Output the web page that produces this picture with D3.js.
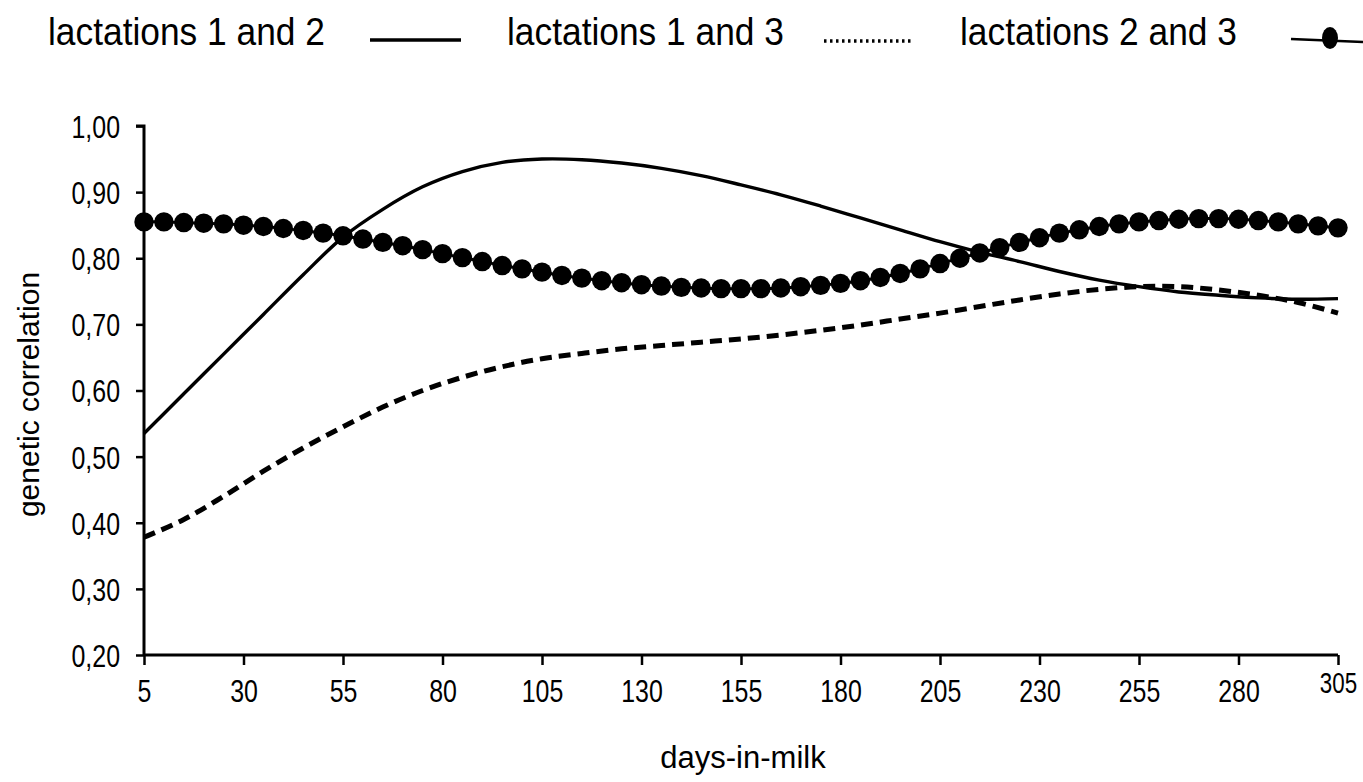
<!DOCTYPE html>
<html>
<head>
<meta charset="utf-8">
<script src="https://cdn.jsdelivr.net/npm/d3@7"></script>
<style>
  html, body { margin: 0; padding: 0; background: #fff; }
  svg { display: block; }
  text { font-family: "Liberation Sans", Arial, sans-serif; fill: #000; }
</style>
</head>
<body>
<svg id="chart" width="1363" height="782"></svg>
<script>
// ---- data ----
const xTicks = [5, 30, 55, 80, 105, 130, 155, 180, 205, 230, 255, 280, 305];
const yTicks = [0.20, 0.30, 0.40, 0.50, 0.60, 0.70, 0.80, 0.90, 1.00];

const lineDays = [5, 15, 25, 35, 45, 55, 65, 75, 85, 95, 105, 115, 125, 135, 145, 155,
  165, 175, 185, 195, 205, 215, 225, 235, 245, 255, 265, 275, 285, 295, 305];

// lactations 1 and 2 (solid)
const lact12 = [0.535, 0.595, 0.655, 0.715, 0.775, 0.832, 0.874, 0.908, 0.931, 0.945, 0.950,
  0.949, 0.944, 0.936, 0.925, 0.911, 0.896, 0.879, 0.861, 0.843, 0.825, 0.809, 0.795, 0.780,
  0.767, 0.757, 0.749, 0.744, 0.740, 0.738, 0.739];

// lactations 1 and 3 (dashed)
const lact13 = [0.378, 0.405, 0.440, 0.478, 0.513, 0.545, 0.575, 0.600, 0.620, 0.636, 0.648,
  0.656, 0.663, 0.668, 0.673, 0.678, 0.684, 0.691, 0.699, 0.708, 0.717, 0.727, 0.737, 0.746,
  0.753, 0.757, 0.757, 0.752, 0.744, 0.733, 0.717];

const dotDays = d3.range(5, 306, 5);
// lactations 2 and 3 (dots)
const lact23 = [0.855, 0.855, 0.854, 0.853, 0.852, 0.850, 0.848, 0.845, 0.842, 0.838,
  0.834, 0.829, 0.824, 0.819, 0.813, 0.807, 0.801, 0.795, 0.789, 0.784,
  0.779, 0.774, 0.770, 0.766, 0.763, 0.760, 0.758, 0.756, 0.755, 0.754,
  0.754, 0.754, 0.755, 0.757, 0.759, 0.762, 0.766, 0.771, 0.777, 0.784,
  0.792, 0.800, 0.808, 0.816, 0.824, 0.831, 0.838, 0.843, 0.848, 0.852,
  0.855, 0.857, 0.859, 0.860, 0.860, 0.859, 0.857, 0.855, 0.852, 0.849, 0.846];

const legendLabels = ["lactations 1 and 2", "lactations 1 and 3", "lactations 2 and 3"];

// ---- drawing ----
const svg = d3.select("#chart");
const x = d3.scaleLinear().domain([5, 305]).range([144, 1338]);
const y = d3.scaleLinear().domain([0.2, 1.0]).range([655, 126]);
const fmt = v => d3.format(".2f")(v).replace(".", ",");

// y axis
const yAxis = svg.append("g").attr("transform", `translate(${x(5)},0)`)
  .call(d3.axisLeft(y).tickValues(yTicks).tickFormat(fmt).tickSize(8).tickPadding(14));
yAxis.select(".domain").attr("stroke", "#000").attr("stroke-width", 3)
  .attr("d", `M-8,${y(1)}H0V${y(0.2)}`);
yAxis.selectAll(".tick line").attr("stroke-width", 2.5);
yAxis.selectAll(".tick text").style("font-size", "29px")
  .attr("x", 0).attr("y", 0).attr("dy", "0.36em")
  .attr("transform", "translate(-24,0) scale(0.86,1.1)");

// x axis
const xAxis = svg.append("g").attr("transform", `translate(0,${y(0.2)})`)
  .call(d3.axisBottom(x).tickValues(xTicks).tickSize(10).tickPadding(15));
xAxis.select(".domain").attr("stroke", "#000").attr("stroke-width", 3)
  .attr("d", `M${x(5)},0H${x(305)}`);
xAxis.selectAll(".tick line").attr("stroke-width", 2.5);
xAxis.selectAll(".tick text").style("font-size", "29px")
  .attr("y", 0).attr("dy", "0.71em").attr("transform", "translate(0,24) scale(0.86,1.1)")
  .filter(d => d === 305).style("font-size", "26px").attr("dy", "0.5em");
svg.selectAll(".tick text").attr("fill", "#000");

// axis titles
svg.append("text").attr("transform", `translate(39,${(y(0.2) + y(1)) / 2 + 4}) rotate(-90)`)
  .attr("text-anchor", "middle").style("font-size", "30px").text("genetic correlation");
svg.append("text").attr("x", (x(5) + x(305)) / 2 + 2).attr("y", 768)
  .attr("text-anchor", "middle").style("font-size", "31px").text("days-in-milk");

// series
const curve = d3.curveCatmullRom.alpha(0.5);
const line = d3.line().x(d => x(d[0])).y(d => y(d[1])).curve(curve);

svg.append("path").datum(d3.zip(lineDays, lact13))
  .attr("fill", "none").attr("stroke", "#000").attr("stroke-width", 5)
  .attr("stroke-dasharray", "12,7").attr("d", line);

svg.append("path").datum(d3.zip(lineDays, lact12))
  .attr("fill", "none").attr("stroke", "#000").attr("stroke-width", 3.4).attr("d", line);

const dots = d3.zip(dotDays, lact23);
svg.append("path").datum(dots)
  .attr("fill", "none").attr("stroke", "#000").attr("stroke-width", 3).attr("d", line);
svg.append("g").selectAll("circle").data(dots).join("circle")
  .attr("cx", d => x(d[0])).attr("cy", d => y(d[1])).attr("r", 9.7).attr("fill", "#000");

// legend
const legendY = 45;
const leg = svg.append("g");
const items = [
  { label: legendLabels[0], tx: 48, lx0: 370, lx1: 461, kind: "solid" },
  { label: legendLabels[1], tx: 507, lx0: 824, lx1: 913, kind: "dotted" },
  { label: legendLabels[2], tx: 960, lx0: 1291, lx1: 1363, kind: "dot" }
];
items.forEach(it => {
  leg.append("text").attr("transform", `translate(${it.tx},${legendY}) scale(0.93,1)`)
    .style("font-size", "38px").text(it.label);
  const ly = legendY - 5;
  const l = leg.append("line").attr("x1", it.lx0).attr("x2", it.lx1)
    .attr("y1", ly).attr("y2", ly).attr("stroke", "#000");
  if (it.kind === "solid") l.attr("stroke-width", 3.5);
  if (it.kind === "dotted") l.attr("stroke-width", 3.5).attr("stroke-dasharray", "2.5,3.5").attr("y1", ly + 1).attr("y2", ly + 1);
  if (it.kind === "dot") {
    l.attr("stroke-width", 2.5).attr("y1", ly - 1).attr("y2", ly + 2);
    leg.append("ellipse").attr("cx", 1330).attr("cy", ly - 2).attr("rx", 8).attr("ry", 11).attr("fill", "#000");
  }
});
</script>
</body>
</html>
